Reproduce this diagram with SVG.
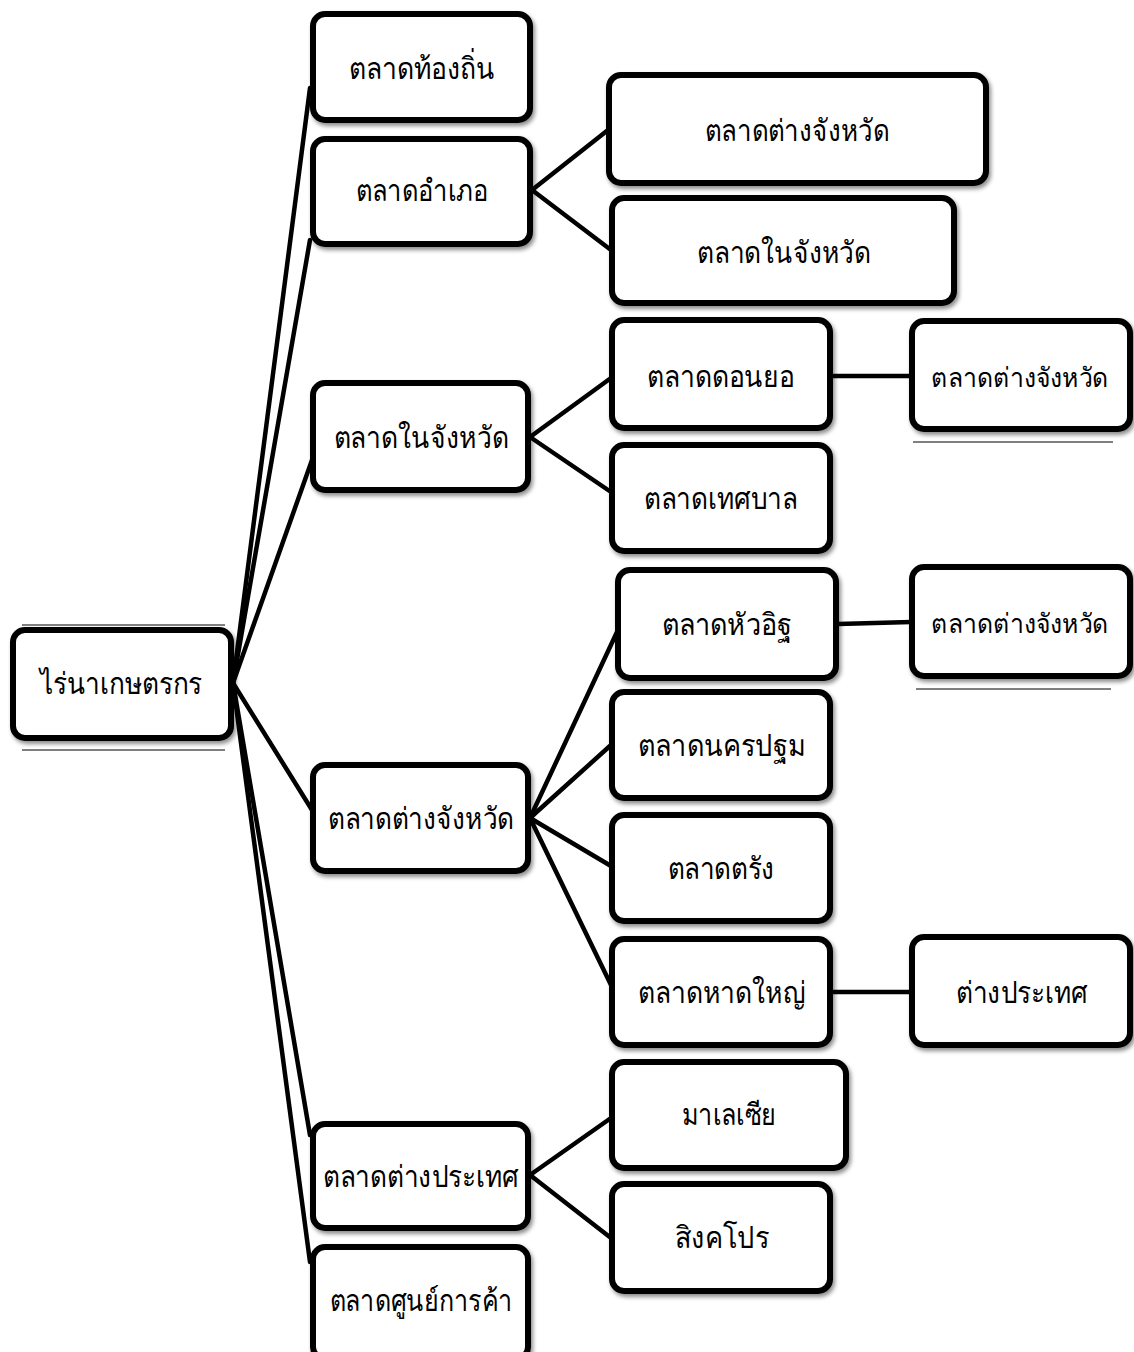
<svg xmlns="http://www.w3.org/2000/svg" width="1134" height="1352" viewBox="0 0 1134 1352">
<defs>
<filter id="sh" x="-10%" y="-10%" width="130%" height="130%">
<feDropShadow dx="2" dy="3" stdDeviation="2" flood-color="#000" flood-opacity="0.45"/>
</filter>
</defs>
<style>
.box{fill:#fff;stroke:#000;stroke-width:6;filter:url(#sh)}
.lbl{font-family:"Liberation Serif","DejaVu Serif",serif;font-size:30px;fill:#000;text-anchor:middle}
.sm{font-size:27px}
.con{stroke:#000;stroke-width:4.5;fill:none;stroke-linecap:round}
.rule{stroke:#000;stroke-width:1;fill:none}
</style>
<rect width="1134" height="1352" fill="#fff"/>
<g id="connectors">
<line class="con" x1="233" y1="683" x2="310" y2="88"/>
<line class="con" x1="233" y1="683" x2="310" y2="240"/>
<line class="con" x1="233" y1="683" x2="312" y2="460"/>
<line class="con" x1="233" y1="683" x2="312" y2="810"/>
<line class="con" x1="233" y1="683" x2="310" y2="1135"/>
<line class="con" x1="233" y1="683" x2="310" y2="1262"/>
<line class="con" x1="532" y1="190" x2="608" y2="130"/>
<line class="con" x1="532" y1="190" x2="611" y2="250"/>
<line class="con" x1="530" y1="437" x2="611" y2="378"/>
<line class="con" x1="530" y1="437" x2="611" y2="492"/>
<line class="con" x1="530" y1="818" x2="617" y2="632"/>
<line class="con" x1="530" y1="818" x2="611" y2="745"/>
<line class="con" x1="530" y1="818" x2="611" y2="866"/>
<line class="con" x1="530" y1="818" x2="611" y2="985"/>
<line class="con" x1="530" y1="1175" x2="611" y2="1118"/>
<line class="con" x1="530" y1="1175" x2="611" y2="1238"/>
<line class="con" x1="832" y1="376" x2="911" y2="376"/>
<line class="con" x1="838" y1="624" x2="911" y2="622"/>
<line class="con" x1="832" y1="992" x2="911" y2="992"/>
<line class="rule" x1="22" y1="625" x2="225" y2="625"/>
<line class="rule" x1="22" y1="750" x2="225" y2="750"/>
<line class="rule" x1="913" y1="442" x2="1113" y2="442"/>
<line class="rule" x1="916" y1="689" x2="1111" y2="689"/>
</g>
<g id="n-root"><rect class="box" x="13" y="630" width="218" height="108" rx="12"/><text class="lbl" x="121" y="694" textLength="163" lengthAdjust="spacingAndGlyphs">ไร่นาเกษตรกร</text></g>
<g id="n-local"><rect class="box" x="313" y="14" width="217" height="106" rx="12"/><text class="lbl" x="422" y="79" textLength="146" lengthAdjust="spacingAndGlyphs">ตลาดท้องถิ่น</text></g>
<g id="n-amphoe"><rect class="box" x="313" y="139" width="217" height="105" rx="12"/><text class="lbl" x="422" y="201" textLength="133" lengthAdjust="spacingAndGlyphs">ตลาดอำเภอ</text></g>
<g id="n-inprov"><rect class="box" x="313" y="383" width="215" height="107" rx="12"/><text class="lbl" x="421" y="448" textLength="175" lengthAdjust="spacingAndGlyphs">ตลาดในจังหวัด</text></g>
<g id="n-outprov"><rect class="box" x="313" y="765" width="215" height="106" rx="12"/><text class="lbl" x="421" y="829" textLength="186" lengthAdjust="spacingAndGlyphs">ตลาดต่างจังหวัด</text></g>
<g id="n-abroad"><rect class="box" x="313" y="1124" width="215" height="104" rx="12"/><text class="lbl" x="421" y="1187" textLength="196" lengthAdjust="spacingAndGlyphs">ตลาดต่างประเทศ</text></g>
<g id="n-mall"><rect class="box" x="313" y="1247" width="215" height="112" rx="12"/><text class="lbl" x="421" y="1311" textLength="183" lengthAdjust="spacingAndGlyphs">ตลาดศูนย์การค้า</text></g>
<g id="n-a-out"><rect class="box" x="609" y="75" width="377" height="108" rx="12"/><text class="lbl" x="797" y="141" textLength="184" lengthAdjust="spacingAndGlyphs">ตลาดต่างจังหวัด</text></g>
<g id="n-a-in"><rect class="box" x="612" y="198" width="342" height="105" rx="12"/><text class="lbl" x="784" y="263" textLength="174" lengthAdjust="spacingAndGlyphs">ตลาดในจังหวัด</text></g>
<g id="n-donyo"><rect class="box" x="612" y="320" width="218" height="108" rx="12"/><text class="lbl" x="721" y="387" textLength="148" lengthAdjust="spacingAndGlyphs">ตลาดดอนยอ</text></g>
<g id="n-donyo-out"><rect class="box" x="912" y="321" width="218" height="108" rx="12"/><text class="lbl sm" x="1020" y="387" textLength="178" lengthAdjust="spacingAndGlyphs">ตลาดต่างจังหวัด</text></g>
<g id="n-tesaban"><rect class="box" x="612" y="445" width="218" height="106" rx="12"/><text class="lbl" x="721" y="509" textLength="154" lengthAdjust="spacingAndGlyphs">ตลาดเทศบาล</text></g>
<g id="n-huaid"><rect class="box" x="618" y="570" width="218" height="108" rx="12"/><text class="lbl" x="727" y="635" textLength="131" lengthAdjust="spacingAndGlyphs">ตลาดหัวอิฐ</text></g>
<g id="n-huaid-out"><rect class="box" x="912" y="567" width="218" height="109" rx="12"/><text class="lbl sm" x="1020" y="633" textLength="178" lengthAdjust="spacingAndGlyphs">ตลาดต่างจังหวัด</text></g>
<g id="n-nakhon"><rect class="box" x="612" y="692" width="218" height="106" rx="12"/><text class="lbl" x="722" y="756" textLength="168" lengthAdjust="spacingAndGlyphs">ตลาดนครปฐม</text></g>
<g id="n-trang"><rect class="box" x="612" y="815" width="218" height="106" rx="12"/><text class="lbl" x="721" y="879" textLength="107" lengthAdjust="spacingAndGlyphs">ตลาดตรัง</text></g>
<g id="n-hatyai"><rect class="box" x="612" y="939" width="218" height="106" rx="12"/><text class="lbl" x="722" y="1003" textLength="168" lengthAdjust="spacingAndGlyphs">ตลาดหาดใหญ่</text></g>
<g id="n-hatyai-out"><rect class="box" x="912" y="937" width="218" height="108" rx="12"/><text class="lbl" x="1022" y="1003" textLength="132" lengthAdjust="spacingAndGlyphs">ต่างประเทศ</text></g>
<g id="n-malaysia"><rect class="box" x="612" y="1062" width="234" height="106" rx="12"/><text class="lbl" x="729" y="1125" textLength="95" lengthAdjust="spacingAndGlyphs">มาเลเซีย</text></g>
<g id="n-singapore"><rect class="box" x="612" y="1184" width="218" height="107" rx="12"/><text class="lbl" x="722" y="1248" textLength="94" lengthAdjust="spacingAndGlyphs">สิงคโปร</text></g>
</svg>
